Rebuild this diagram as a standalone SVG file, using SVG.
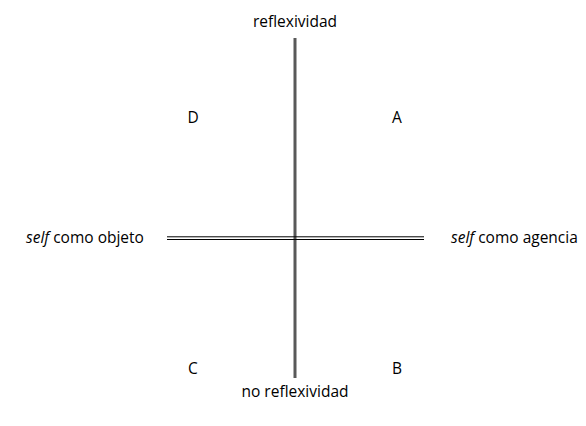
<svg xmlns="http://www.w3.org/2000/svg" width="586" height="426" viewBox="0 0 586 426">
<style>
.t{font-family:"Open Sans","Noto Sans","Liberation Sans",sans-serif;font-size:15.5px;fill:#000}
.m{text-anchor:middle}
.axis-v{stroke:#595959;stroke-width:3;fill:none}
.axis-h{stroke:#000;stroke-width:1;fill:none}
</style>
<rect width="586" height="426" fill="#fff"/>
<g id="connectors">
<line class="axis-v" x1="295" y1="38" x2="295" y2="378"/>
<line class="axis-h" x1="167" y1="236.8" x2="424" y2="236.8"/>
<line class="axis-h" x1="167" y1="239.5" x2="424" y2="239.5"/>
</g>
<g id="top"><text class="t m" x="295" y="27">reflexividad</text></g>
<g id="bottom"><text class="t m" x="295" y="397">no reflexividad</text></g>
<g id="left"><text class="t" x="26" y="243"><tspan font-style="italic">self</tspan> como objeto</text></g>
<g id="right"><text class="t" x="451" y="243"><tspan font-style="italic">self</tspan> como agencia</text></g>
<g id="qA"><text class="t m" x="397" y="123">A</text></g>
<g id="qB"><text class="t m" x="397" y="374">B</text></g>
<g id="qC"><text class="t m" x="193" y="374">C</text></g>
<g id="qD"><text class="t m" x="193" y="123">D</text></g>
</svg>
